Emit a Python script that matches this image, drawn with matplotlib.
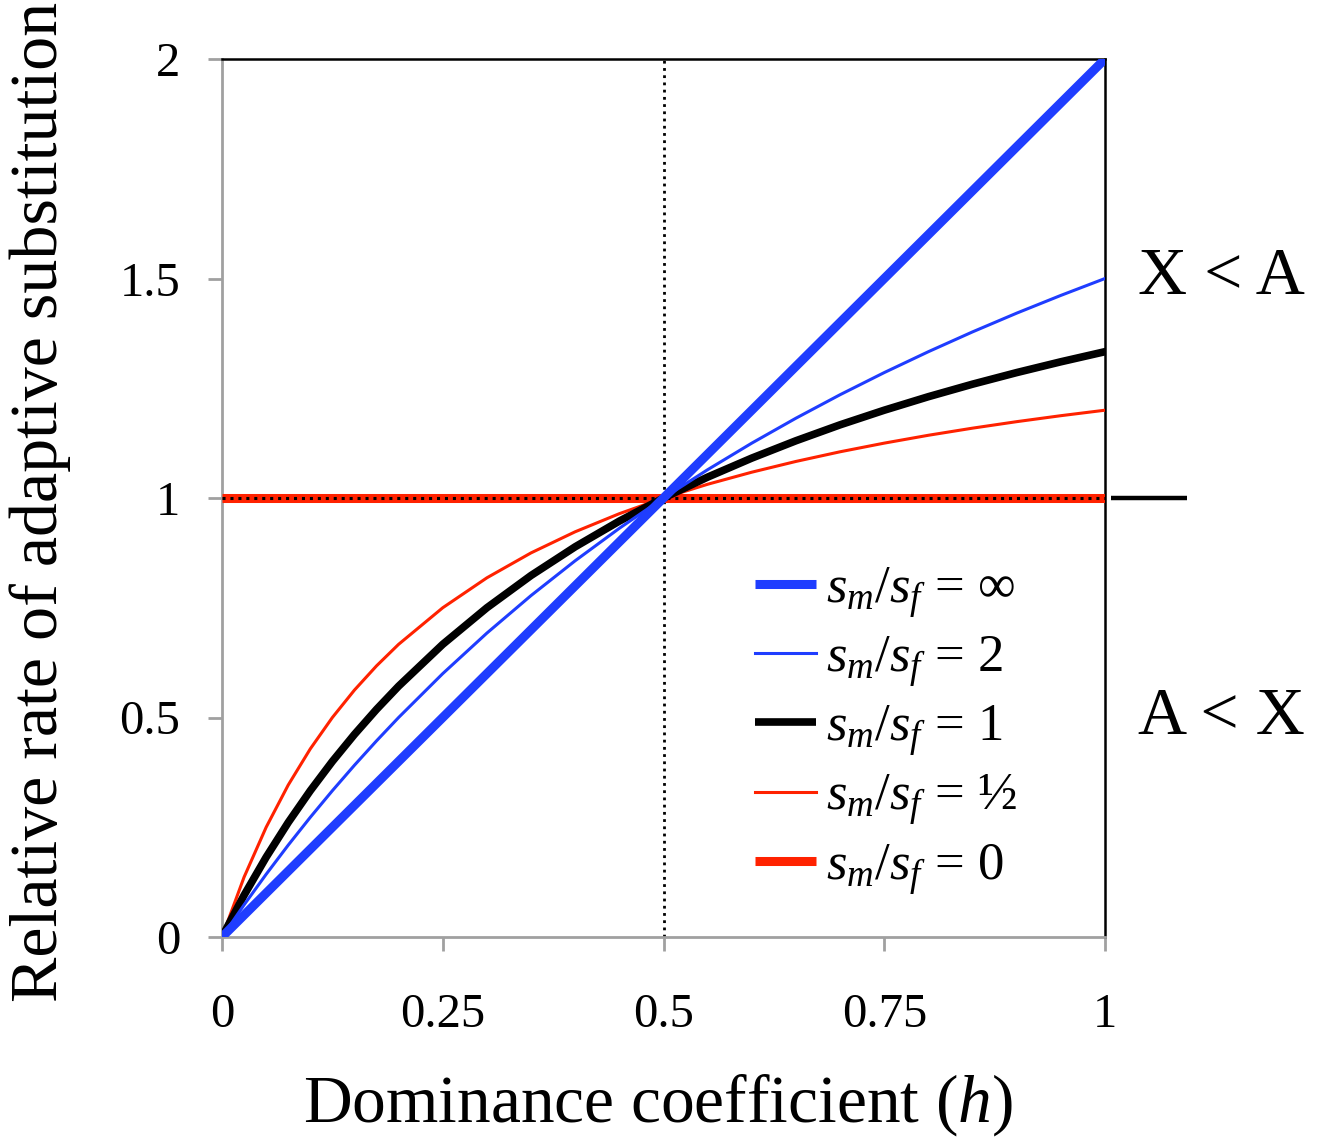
import matplotlib
matplotlib.use("Agg")
import matplotlib.pyplot as plt
from matplotlib.lines import Line2D

plt.rcParams['font.family'] = ['Liberation Serif', 'DejaVu Serif']
plt.rcParams['mathtext.fontset'] = 'custom'
plt.rcParams['mathtext.rm'] = 'Liberation Serif'
plt.rcParams['mathtext.it'] = 'Liberation Serif:italic'

# Dominance coefficient (x) sample points
h = [0, 0.025, 0.05, 0.075, 0.1, 0.125, 0.15, 0.175, 0.2, 0.25, 0.3, 0.35, 0.4,
     0.45, 0.5, 0.55, 0.6, 0.65, 0.7, 0.75, 0.8, 0.85, 0.9, 0.95, 1.0]

rate_inf = [0, 0.05, 0.10, 0.15, 0.20, 0.25, 0.30, 0.35, 0.40, 0.50, 0.60, 0.70, 0.80,
            0.90, 1.00, 1.10, 1.20, 1.30, 1.40, 1.50, 1.60, 1.70, 1.80, 1.90, 2.00]
rate_2 = [0, 0.0732, 0.1429, 0.2093, 0.2727, 0.3333, 0.3913, 0.4468, 0.5, 0.6, 0.6923,
          0.7778, 0.8571, 0.9310, 1.0, 1.0645, 1.125, 1.1818, 1.2353, 1.2857, 1.3333,
          1.3784, 1.4211, 1.4615, 1.5]
rate_1 = [0, 0.0952, 0.1818, 0.2609, 0.3333, 0.4, 0.4615, 0.5185, 0.5714, 0.6667, 0.75,
          0.8235, 0.8889, 0.9474, 1.0, 1.0476, 1.0909, 1.1304, 1.1667, 1.2, 1.2308,
          1.2593, 1.2857, 1.3103, 1.3333]
rate_half = [0, 0.1364, 0.25, 0.3462, 0.4286, 0.5, 0.5625, 0.6176, 0.6667, 0.75, 0.8182,
             0.875, 0.9231, 0.9643, 1.0, 1.0313, 1.0588, 1.0833, 1.1053, 1.125, 1.1429,
             1.1591, 1.1739, 1.1875, 1.2]
rate_0_h = [0, 1]
rate_0 = [1, 1]

legend_labels = [r'$s_m/s_f$ = ∞', r'$s_m/s_f$ = 2', r'$s_m/s_f$ = 1',
                 r'$s_m/s_f$ = ½', r'$s_m/s_f$ = 0']
xticks = [0, 0.25, 0.5, 0.75, 1]
xticklabels = ['0', '0.25', '0.5', '0.75', '1']
yticks = [0, 0.5, 1, 1.5, 2]
yticklabels = ['0', '0.5', '1', '1.5', '2']

BLUE = '#1f3dff'
RED = '#ff2200'

fig = plt.figure(figsize=(13.22, 11.44), dpi=100)
ax = fig.add_axes([222/1322, 1 - 937/1144, (1105-222)/1322, (937-59)/1144])

ax.set_xlim(0, 1)
ax.set_ylim(0, 2)

# reference lines
ax.plot([0.5, 0.5], [0, 2], color='black', linestyle=(0, (1, 1.6)), lw=2.0, zorder=2)
l0, = ax.plot(rate_0_h, rate_0, color=RED, lw=6.5, solid_capstyle='butt', zorder=3)
ax.plot(rate_0_h, rate_0, color='black', linestyle=(0, (1, 1.6)), lw=2.2, zorder=3.5)
ax.plot([1.007, 1.093], [1, 1], color='black', lw=3.2, clip_on=False,
        solid_capstyle='butt', zorder=5)

lh, = ax.plot(h, rate_half, color=RED, lw=2.2, zorder=4)
l1, = ax.plot(h, rate_1, color='black', lw=5.5, zorder=5)
l2, = ax.plot(h, rate_2, color=BLUE, lw=2.2, zorder=6)
linf, = ax.plot(h, rate_inf, color=BLUE, lw=6.5, solid_capstyle='butt', zorder=7)

# spines
for s in ['left', 'bottom']:
    ax.spines[s].set_color('#a0a0a0')
    ax.spines[s].set_linewidth(2)
for s in ['top', 'right']:
    ax.spines[s].set_color('black')
    ax.spines[s].set_linewidth(1.8)

ax.set_xticks(xticks)
ax.set_xticklabels(xticklabels)
ax.set_yticks(yticks)
ax.set_yticklabels(yticklabels)
ax.tick_params(axis='both', direction='out', length=10, width=2, color='#a0a0a0',
               labelsize=35)
ax.tick_params(axis='x', pad=30)
ax.tick_params(axis='y', pad=20)

ax.set_xlabel('Dominance coefficient (' + r'$h$' + ')', fontsize=48.5)
ax.set_ylabel('Relative rate of adaptive substitution', fontsize=49)
ax.xaxis.label.set_va('center')
ax.yaxis.label.set_va('center')
ax.xaxis.set_label_coords((658-222)/883, (937-1105)/878)
ax.yaxis.set_label_coords((40-222)/883, (937-502)/878)

# legend
handles = [Line2D([], [], color=BLUE, lw=6.5, solid_capstyle='butt'),
           Line2D([], [], color=BLUE, lw=2.2),
           Line2D([], [], color='black', lw=5.5, solid_capstyle='butt'),
           Line2D([], [], color=RED, lw=2.2),
           Line2D([], [], color=RED, lw=6.5, solid_capstyle='butt')]
leg = ax.legend(handles, legend_labels, loc='upper left',
                bbox_to_anchor=((755-222)/883, (937-565)/878),
                frameon=False, fontsize=38, handlelength=1.15, handletextpad=0.2,
                labelspacing=0.28, borderaxespad=0, borderpad=0)

fig.text(1221/1322, 1 - 278/1144, 'X < A', fontsize=49, ha='center', va='center')
fig.text(1221/1322, 1 - 718/1144, 'A < X', fontsize=49, ha='center', va='center')

fig.savefig('out.png', dpi=100)
